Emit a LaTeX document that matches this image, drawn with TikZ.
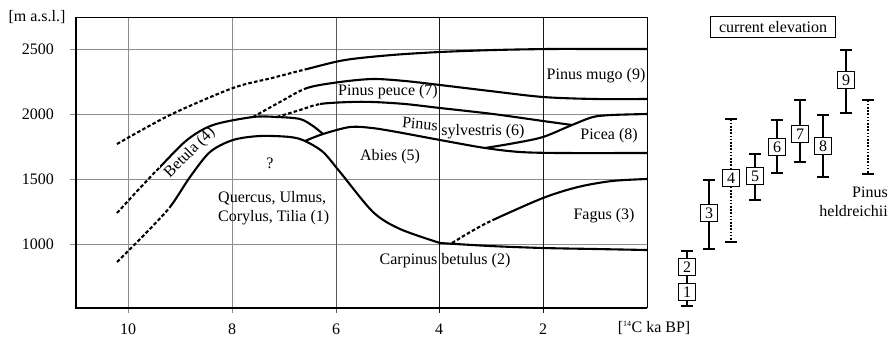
\documentclass[tikz,border=0pt]{standalone}
\usepackage{fontspec}
\setmainfont{Liberation Serif}
\usetikzlibrary{arrows.meta}
\begin{document}
\begin{tikzpicture}[x=1pt,y=-1pt,
  every node/.style={font=\fontsize{16}{19}\selectfont, inner sep=0pt},
  curve/.style={line width=2.1pt, line join=round},
  dcurve/.style={line width=2.1pt, dash pattern=on 3.6pt off 2.2pt},
  hgrid/.style={draw=black!45, line width=0.8pt},
  vgrid/.style={line width=0.8pt},
  numbox/.style={draw, fill=white, line width=0.9pt, minimum width=17pt, minimum height=17pt},
  errbar/.style={line width=2pt, {Bar[width=12pt,line width=2.2pt]}-{Bar[width=12pt,line width=2.2pt]}},
  dotbar/.style={errbar, dash pattern=on 1.6pt off 1.6pt},
]
\useasboundingbox (0,0) rectangle (891,340);
% grid
\foreach \y in {49,114,179,244} \draw[hgrid] (70,\y) -- (647,\y);
\foreach \x/\c in {128/45,232/45,336/65,439/90,543/90} \draw[vgrid, draw=black!\c] (\x,17) -- (\x,313);
\draw[line width=0.9pt] (76,17) -- (647,17) -- (647,308);
\draw[line width=1.8pt] (76,17) -- (76,308) -- (647,308);
% axis labels
\node (ylab) at (37,17) {[m a.s.l.]};
\node[anchor=east] (y2500) at (54,49) {2500};
\node[anchor=east] (y2000) at (54,114) {2000};
\node[anchor=east] (y1500) at (54,179) {1500};
\node[anchor=east] (y1000) at (54,244) {1000};
\node (x10) at (128,329) {10};
\node (x8) at (232,329) {8};
\node (x6) at (336,329) {6};
\node (x4) at (439,329) {4};
\node (x2) at (543,329) {2};
\node (xlab) at (654,328) {[\textsuperscript{\fontsize{8}{8}\selectfont 14}C ka BP]};
% curves with dashed beginnings: dashed part left of a clip, solid part right of it
% upper limit (Pinus mugo)
\def\cA{(117,144) (170,115) (233,88) (272,78) (307,69) (345,60) (392,55) (440,52) (495,50) (550,49) (600,49) (647,49)}
\begin{scope}\clip (0,0) rectangle (307,340); \draw[dcurve] plot[smooth] coordinates {\cA};\end{scope}
\begin{scope}\clip (307,0) rectangle (700,340); \draw[curve] plot[smooth] coordinates {\cA};\end{scope}
% Pinus peuce upper
\def\cB{(253,117) (280,102) (307,88) (340,82) (373,79) (405,81) (440,85) (490,91) (543,97) (595,99) (647,99)}
\begin{scope}\clip (0,0) rectangle (307,340); \draw[dcurve] plot[smooth] coordinates {\cB};\end{scope}
\begin{scope}\clip (307,0) rectangle (700,340); \draw[curve] plot[smooth] coordinates {\cB};\end{scope}
% Pinus sylvestris upper
\def\cC{(277,117) (300,110) (320,104) (350,102) (373,102) (405,104) (440,108) (493,114) (543,121) (572,125)}
\begin{scope}\clip (0,0) rectangle (320,340); \draw[dcurve] plot[smooth] coordinates {\cC};\end{scope}
\begin{scope}\clip (320,0) rectangle (700,340); \draw[curve] plot[smooth] coordinates {\cC};\end{scope}
% Picea upper
\draw[curve] plot[smooth] coordinates {(485,148) (515,143) (543,137) (572,125) (593,117) (612,115) (647,114)};
% Betula upper
\def\cD{(117,213) (140,188) (160,167) (187,140) (213,125) (253,117) (277,117) (300,119) (313,126) (323,134)}
\begin{scope}\clip (0,0) rectangle (160,340); \draw[dcurve] plot[smooth] coordinates {\cD};\end{scope}
\begin{scope}\clip (160,0) rectangle (700,340); \draw[curve] plot[smooth] coordinates {\cD};\end{scope}
% Abies upper
\draw[curve] plot[smooth] coordinates {(305,141) (323,134) (350,127) (372,128) (397,132) (440,140) (485,148) (520,152) (560,153) (647,153)};
% Quercus upper
\def\cE{(117,262) (145,234) (170,207) (190,177) (210,152) (233,140) (260,136) (290,137) (305,141) (323,152) (340,172) (373,212) (400,229) (440,243)}
\begin{scope}\clip (0,0) rectangle (170,340); \draw[dcurve] plot[smooth] coordinates {\cE};\end{scope}
\begin{scope}\clip (170,0) rectangle (700,340); \draw[curve] plot[smooth] coordinates {\cE};\end{scope}
% Carpinus
\draw[curve] plot[smooth] coordinates {(440,243) (490,246) (543,248) (595,249) (647,250)};
% Fagus
\def\cF{(452,243) (472,231) (493,220) (543,198) (578,187) (612,181) (647,179)}
\begin{scope}\clip (0,0) rectangle (493,340); \draw[dcurve] plot[smooth] coordinates {\cF};\end{scope}
\begin{scope}\clip (493,0) rectangle (700,340); \draw[curve] plot[smooth] coordinates {\cF};\end{scope}
% region labels
\node[rotate=45] (betula) at (190,153) {Betula (4)};
\node (q) at (270,163) {?};
\node[align=left, anchor=west] (querc) at (218,208) {Quercus, Ulmus,\\Corylus, Tilia (1)};
\node (abies) at (390,157) {Abies (5)};
\node (peuce) at (388,92) {Pinus peuce (7)};
\node[rotate=-5] (sylv1) at (420,124) {Pinus};
\node (sylv2) at (483,132) {sylvestris (6)};
\node (mugo) at (596,76) {Pinus mugo (9)};
\node (picea) at (609,136) {Picea (8)};
\node (fagus) at (604,216) {Fagus (3)};
\node (carp) at (445,261) {Carpinus betulus (2)};
% right panel
\node[draw, line width=0.9pt, minimum width=125pt, minimum height=21pt] (cur) at (773,27) {current elevation};
\coordinate (t12) at (687,250); \coordinate (b12) at (687,307);
\coordinate (t3) at (709,179); \coordinate (b3) at (709,250);
\coordinate (t4) at (731,118); \coordinate (b4) at (731,243);
\coordinate (t5) at (755,153); \coordinate (b5) at (755,201);
\coordinate (t6) at (777,119); \coordinate (b6) at (777,174);
\coordinate (t7) at (800,99); \coordinate (b7) at (800,163);
\coordinate (t8) at (823,114); \coordinate (b8) at (823,178);
\coordinate (t9) at (846,49); \coordinate (b9) at (846,114);
\coordinate (tph) at (868,99); \coordinate (bph) at (868,175);
\draw[errbar] (t12) -- (b12);
\draw[errbar] (t3) -- (b3);
\draw[dotbar] (t4) -- (b4);
\draw[errbar] (t5) -- (b5);
\draw[errbar] (t6) -- (b6);
\draw[errbar] (t7) -- (b7);
\draw[errbar] (t8) -- (b8);
\draw[errbar] (t9) -- (b9);
\draw[dotbar] (tph) -- (bph);
\node[numbox] (n1) at (687,292) {1};
\node[numbox] (n2) at (687,267) {2};
\node[numbox] (n3) at (709,213) {3};
\node[numbox] (n4) at (731,178) {4};
\node[numbox] (n5) at (755,176) {5};
\node[numbox] (n6) at (777,147) {6};
\node[numbox] (n7) at (800,134) {7};
\node[numbox] (n8) at (823,146) {8};
\node[numbox] (n9) at (846,80) {9};
\node[align=right, anchor=east] (ph) at (888,202) {Pinus\\heldreichii};
\end{tikzpicture}
\end{document}
